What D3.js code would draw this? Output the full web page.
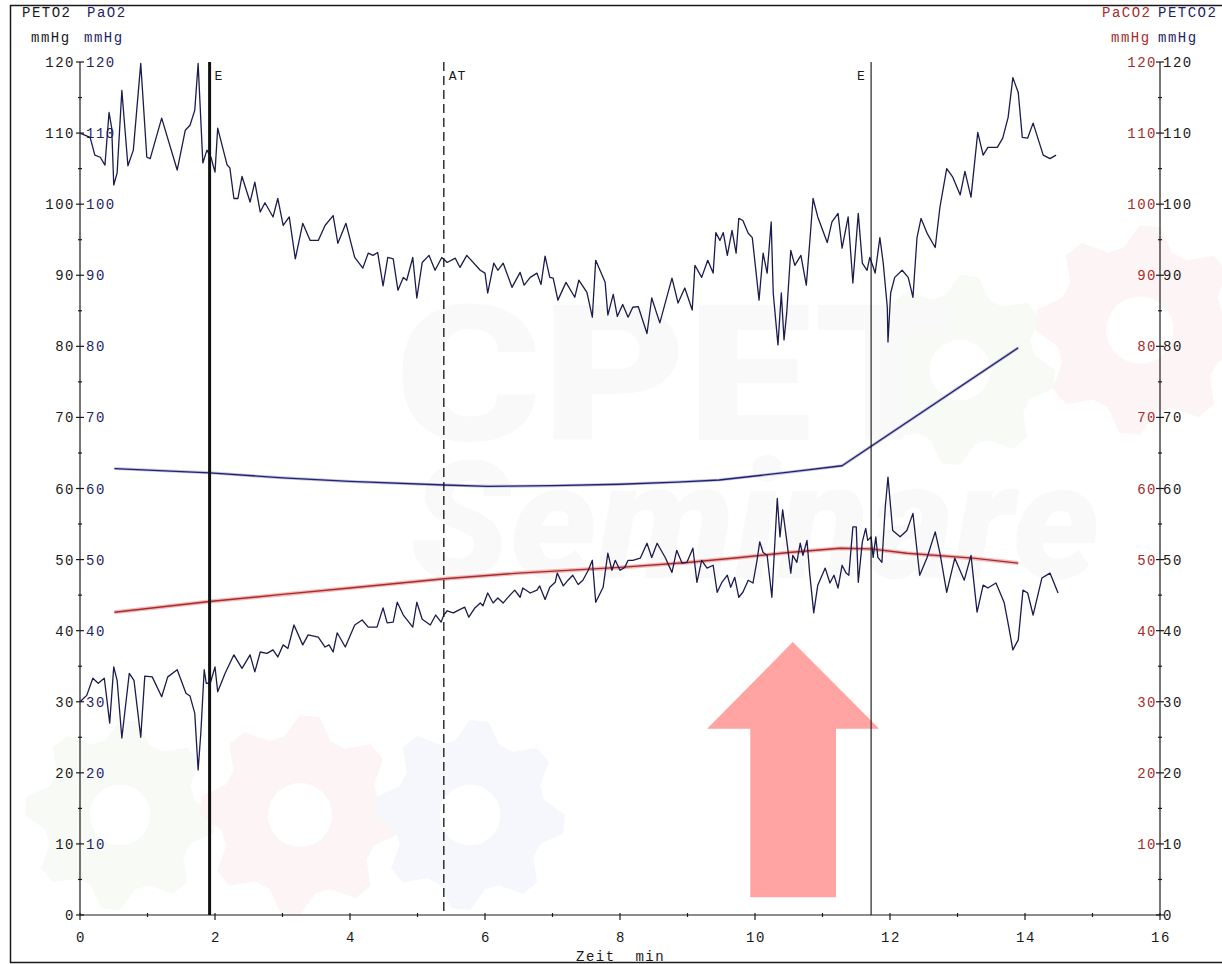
<!DOCTYPE html>
<html>
<head>
<meta charset="utf-8">
<script src="https://cdn.jsdelivr.net/npm/d3@7"></script>
<style>
  body { margin: 0; background: #fff; }
  svg { display: block; }
  text { font-family: "Liberation Mono", "DejaVu Sans Mono", monospace; font-size: 14px; letter-spacing: 1.5px; }
</style>
</head>
<body>
<script>
// ---- data -------------------------------------------------------------
// time in minutes, values in mmHg
const yTickValues = [0, 10, 20, 30, 40, 50, 60, 70, 80, 90, 100, 110, 120];
const xTickValues = [0, 2, 4, 6, 8, 10, 12, 14, 16];

// end-tidal O2, breath by breath
const petO2 = [[0.00,110.0],[0.15,109.4],[0.22,106.9],[0.30,106.6],[0.37,105.5],[0.43,112.9],[0.47,110.7],[0.50,102.7],[0.55,104.4],[0.62,116.0],[0.71,105.4],[0.79,107.6],[0.90,119.8],[0.99,106.6],[1.04,106.4],[1.21,112.1],[1.44,104.8],[1.56,110.4],[1.63,111.1],[1.70,113.2],[1.75,119.8],[1.82,105.8],[1.88,107.6],[1.94,106.6],[2.00,104.5],[2.04,110.7],[2.18,105.5],[2.22,105.1],[2.28,100.8],[2.34,100.8],[2.40,103.9],[2.52,100.3],[2.59,103.1],[2.67,98.9],[2.74,100.2],[2.86,98.2],[2.93,100.8],[3.01,97.0],[3.10,98.2],[3.19,92.3],[3.30,97.3],[3.41,94.9],[3.53,94.9],[3.63,97.0],[3.75,98.4],[3.82,94.5],[3.94,97.3],[4.07,92.5],[4.19,91.0],[4.27,93.1],[4.34,92.8],[4.41,93.2],[4.49,88.5],[4.56,92.5],[4.64,92.3],[4.71,87.9],[4.79,89.7],[4.84,89.3],[4.93,92.5],[4.99,86.8],[5.07,91.8],[5.17,92.8],[5.26,90.7],[5.36,92.5],[5.44,91.8],[5.56,92.4],[5.63,91.1],[5.73,92.8],[5.93,90.7],[6.00,90.3],[6.04,87.5],[6.13,91.7],[6.19,90.7],[6.27,91.7],[6.40,88.3],[6.52,90.4],[6.58,88.6],[6.67,89.7],[6.77,90.3],[6.83,88.7],[6.89,92.7],[6.96,89.7],[7.01,89.6],[7.08,86.5],[7.20,89.0],[7.33,86.9],[7.39,89.3],[7.51,87.6],[7.59,84.1],[7.64,92.1],[7.78,89.0],[7.82,84.4],[7.90,87.3],[7.96,84.2],[8.04,85.9],[8.12,84.1],[8.19,85.5],[8.27,85.6],[8.40,81.8],[8.47,86.8],[8.59,83.3],[8.77,89.6],[8.86,86.1],[8.96,88.2],[9.07,85.1],[9.11,91.4],[9.21,89.7],[9.30,92.1],[9.38,90.3],[9.42,96.0],[9.48,94.9],[9.53,96.0],[9.59,92.8],[9.66,96.3],[9.72,93.1],[9.76,98.0],[9.82,97.7],[9.90,95.9],[9.96,95.3],[10.06,86.5],[10.12,93.1],[10.18,90.3],[10.24,97.5],[10.27,87.5],[10.34,80.2],[10.39,87.5],[10.43,80.9],[10.47,84.7],[10.53,93.5],[10.59,91.4],[10.68,92.8],[10.76,88.6],[10.81,94.5],[10.86,100.8],[10.93,98.2],[11.07,94.6],[11.14,97.5],[11.23,98.7],[11.29,93.8],[11.38,98.2],[11.45,88.9],[11.53,98.7],[11.59,91.7],[11.66,90.7],[11.70,92.5],[11.75,91.2],[11.78,90.3],[11.85,95.3],[11.90,91.7],[11.96,85.5],[11.97,80.6],[12.01,87.5],[12.07,89.7],[12.18,90.7],[12.27,89.7],[12.34,86.9],[12.40,95.3],[12.46,98.0],[12.55,95.9],[12.67,93.9],[12.74,99.6],[12.84,105.0],[12.93,103.8],[13.04,101.3],[13.11,104.6],[13.20,101.0],[13.30,110.1],[13.38,106.9],[13.45,108.0],[13.59,108.0],[13.67,109.3],[13.75,112.2],[13.82,117.8],[13.90,115.7],[13.96,109.4],[14.04,109.3],[14.12,111.4],[14.27,106.9],[14.37,106.4],[14.46,106.9]];

// end-tidal CO2, breath by breath
const petCO2 = [[0.00,30.0],[0.10,30.9],[0.19,33.3],[0.27,32.6],[0.36,33.3],[0.40,30.2],[0.44,27.0],[0.50,34.9],[0.55,33.0],[0.62,24.9],[0.73,34.0],[0.80,33.0],[0.90,25.0],[0.96,33.6],[1.07,33.5],[1.21,30.7],[1.30,33.5],[1.44,34.5],[1.57,31.2],[1.63,30.8],[1.70,28.4],[1.75,20.4],[1.79,25.6],[1.84,34.5],[1.87,32.6],[1.93,32.6],[2.00,34.9],[2.04,31.4],[2.15,34.0],[2.28,36.6],[2.40,34.7],[2.52,36.6],[2.59,34.2],[2.67,37.0],[2.77,36.8],[2.86,37.3],[2.93,36.3],[3.01,38.0],[3.08,37.5],[3.17,40.8],[3.30,38.0],[3.38,39.4],[3.53,39.1],[3.63,37.7],[3.69,38.0],[3.75,37.0],[3.81,39.7],[3.93,37.7],[4.07,40.8],[4.18,41.5],[4.27,40.5],[4.40,40.5],[4.49,43.2],[4.55,41.1],[4.64,41.2],[4.70,44.0],[4.79,42.2],[4.93,40.5],[4.99,44.0],[5.07,41.6],[5.19,40.8],[5.27,42.2],[5.35,41.2],[5.39,42.2],[5.44,42.8],[5.53,42.5],[5.61,42.9],[5.70,43.3],[5.76,41.9],[5.85,43.2],[5.93,43.9],[5.97,43.5],[6.04,45.3],[6.12,43.9],[6.19,44.6],[6.27,43.9],[6.37,45.0],[6.44,45.7],[6.52,44.7],[6.56,46.0],[6.67,45.3],[6.77,45.7],[6.81,46.3],[6.89,44.4],[6.96,46.1],[7.04,46.8],[7.07,48.1],[7.16,46.3],[7.23,47.1],[7.30,47.8],[7.38,46.5],[7.45,47.1],[7.53,48.5],[7.59,49.9],[7.64,44.0],[7.75,46.1],[7.82,50.9],[7.88,48.5],[7.93,49.9],[8.00,48.5],[8.07,48.9],[8.12,49.9],[8.19,49.9],[8.30,50.2],[8.40,52.3],[8.47,50.3],[8.55,52.3],[8.67,50.3],[8.77,48.2],[8.84,51.3],[8.92,49.5],[8.99,49.6],[9.08,51.6],[9.14,46.8],[9.21,49.9],[9.29,48.8],[9.38,49.2],[9.44,45.4],[9.51,46.8],[9.59,47.8],[9.64,46.1],[9.70,47.5],[9.76,44.7],[9.82,45.4],[9.90,47.1],[9.97,46.7],[10.03,49.9],[10.07,52.5],[10.12,51.0],[10.18,50.6],[10.25,44.7],[10.33,58.6],[10.37,53.2],[10.41,57.0],[10.47,52.7],[10.53,48.1],[10.56,50.6],[10.62,49.6],[10.67,52.3],[10.71,50.6],[10.77,52.7],[10.81,48.1],[10.87,42.5],[10.93,46.4],[11.04,48.8],[11.11,46.7],[11.17,47.8],[11.23,46.0],[11.29,49.2],[11.35,48.1],[11.39,47.8],[11.45,54.6],[11.50,54.6],[11.53,46.8],[11.59,52.5],[11.64,54.4],[11.67,52.7],[11.72,53.2],[11.75,50.3],[11.79,53.2],[11.82,50.3],[11.88,49.6],[11.93,57.4],[11.97,61.6],[12.04,54.1],[12.15,53.2],[12.25,54.1],[12.34,56.5],[12.44,47.8],[12.55,50.3],[12.67,53.9],[12.74,50.9],[12.84,45.4],[12.96,50.2],[13.10,47.1],[13.20,50.6],[13.29,42.6],[13.38,46.4],[13.45,46.0],[13.57,46.7],[13.69,44.0],[13.76,40.5],[13.82,37.3],[13.90,38.7],[13.97,45.7],[14.04,45.3],[14.12,42.2],[14.25,47.4],[14.37,48.1],[14.49,45.3]];

// arterial O2 and CO2 (smoothed)
const paO2 = [[0.51,62.8],[1.92,62.2],[3.0,61.5],[4.0,61.0],[5.40,60.5],[6.04,60.3],[7.0,60.4],[8.0,60.6],[8.85,60.9],[9.47,61.2],[10.5,62.3],[11.29,63.2],[13.90,79.8]];
const paCO2 = [[0.51,42.6],[1.92,44.1],[3.0,45.1],[4.0,46.0],[5.4,47.3],[6.5,48.1],[8.0,48.9],[9.0,49.6],[9.78,50.3],[10.5,51.0],[11.26,51.6],[11.72,51.5],[12.25,50.9],[13.23,50.2],[13.9,49.5]];

// event markers
const markerTimes = [1.92, 5.39, 11.72];
const markerLabels = ["E", "AT", "E"];

// highlight arrow outline, in minutes / mmHg
const arrowOutline = [[10.56,38.4],[11.84,26.2],[11.20,26.2],[11.20,2.5],[9.93,2.5],[9.93,26.2],[9.29,26.2]];

// ---- drawing ----------------------------------------------------------
const W = 1222, H = 964;
const NAVY = "#1f1f66", LINE = "#1b1b4d", RED = "#a52c2c", INK = "#1a1a1a";

const x = d3.scaleLinear().domain([0, 16]).range([80, 1160]);
const y = d3.scaleLinear().domain([0, 120]).range([915, 62]);

const svg = d3.select("body").append("svg").attr("width", W).attr("height", H);
svg.append("rect").attr("width", W).attr("height", H).attr("fill", "#fff");

// faint background branding
const wm = svg.append("g").attr("class", "watermark");
function gear(cx, cy, r, color) {
  const teeth = 8, pts = [];
  for (let i = 0; i < teeth * 4; i++) {
    const a = (i / (teeth * 4)) * Math.PI * 2;
    const rr = (i % 4 < 2) ? r : r * 0.8;
    pts.push([cx + rr * Math.cos(a), cy + rr * Math.sin(a)]);
  }
  wm.append("path").attr("d", d3.line().curve(d3.curveLinearClosed)(pts)).attr("fill", color);
  wm.append("circle").attr("cx", cx).attr("cy", cy).attr("r", r * 0.32).attr("fill", "#fff");
}
gear(120, 815, 95, "#f8faf5");
gear(300, 815, 100, "#fdf5f5");
gear(470, 815, 95, "#f5f7fc");
gear(960, 370, 95, "#f8faf5");
gear(1140, 330, 105, "#fdf5f5");
wm.append("text").attr("x", 395).attr("y", 440).attr("textLength", 560).attr("lengthAdjust", "spacingAndGlyphs")
  .style("font-family", "Roboto, sans-serif").style("font-weight", 900).style("font-size", "190px").style("letter-spacing", "0")
  .attr("fill", "#f9f9f9").text("CPET");
wm.append("text").attr("x", 410).attr("y", 578).attr("textLength", 690).attr("lengthAdjust", "spacingAndGlyphs")
  .style("font-family", "Roboto, sans-serif").style("font-weight", 900).style("font-style", "italic").style("font-size", "165px").style("letter-spacing", "0")
  .attr("fill", "#f9f9f9").text("Seminare");

// outer frame
svg.append("rect").attr("x", 10.5).attr("y", 5.5).attr("width", W).attr("height", 957)
  .attr("fill", "none").attr("stroke", INK).attr("stroke-width", 1.5);

// highlight arrow
svg.append("path")
  .attr("d", d3.line().x(d => x(d[0])).y(d => y(d[1])).curve(d3.curveLinearClosed)(arrowOutline))
  .attr("fill", "#ffa3a3");

// axes
const axes = svg.append("g").attr("stroke", INK).attr("stroke-width", 1.2);
[0, 16].forEach(t => {
  axes.append("line").attr("x1", x(t)).attr("x2", x(t)).attr("y1", y(120)).attr("y2", y(0));
});
axes.append("line").attr("x1", x(0)).attr("x2", x(16)).attr("y1", y(0)).attr("y2", y(0));

const yMinor = d3.range(5, 120, 10);
[0, 16].forEach(t => {
  const ax = x(t);
  yTickValues.forEach(v => axes.append("line").attr("x1", ax - 4).attr("x2", ax + 4).attr("y1", y(v)).attr("y2", y(v)));
  yMinor.forEach(v => axes.append("line").attr("x1", ax - 2).attr("x2", ax + 2).attr("y1", y(v)).attr("y2", y(v)));
});
xTickValues.forEach(t => axes.append("line").attr("x1", x(t)).attr("x2", x(t)).attr("y1", y(0) - 2).attr("y2", y(0) + 5));
d3.range(1, 16, 2).forEach(t => axes.append("line").attr("x1", x(t)).attr("x2", x(t)).attr("y1", y(0) - 2).attr("y2", y(0) + 2));

// y tick labels: left axis carries PETO2 / PaO2, right axis PaCO2 / PETCO2
const labels = svg.append("g");
yTickValues.forEach(v => {
  const yy = y(v) + 5;
  labels.append("text").attr("x", x(0) - 5).attr("y", yy).attr("text-anchor", "end").attr("fill", INK).text(v);
  if (v > 0) labels.append("text").attr("x", x(0) + 6).attr("y", yy).attr("fill", NAVY).text(v);
  if (v > 0) labels.append("text").attr("x", x(16) - 3).attr("y", yy).attr("text-anchor", "end").attr("fill", RED).text(v);
  labels.append("text").attr("x", x(16) + 3).attr("y", yy).attr("fill", INK).text(v);
});
xTickValues.forEach(t => {
  labels.append("text").attr("x", x(t) + 1).attr("y", 942).attr("text-anchor", "middle").attr("fill", INK).text(t);
});
labels.append("text").attr("x", 576).attr("y", 961).attr("fill", INK).attr("xml:space", "preserve").style("white-space", "pre").text("Zeit  min");

// axis headers
labels.append("text").attr("x", 22).attr("y", 17).attr("fill", INK).text("PETO2");
labels.append("text").attr("x", 87).attr("y", 17).attr("fill", NAVY).text("PaO2");
labels.append("text").attr("x", 31).attr("y", 42).attr("fill", INK).text("mmHg");
labels.append("text").attr("x", 84).attr("y", 42).attr("fill", NAVY).text("mmHg");
labels.append("text").attr("x", 1102).attr("y", 17).attr("fill", RED).text("PaCO2");
labels.append("text").attr("x", 1158).attr("y", 17).attr("fill", NAVY).text("PETCO2");
labels.append("text").attr("x", 1111).attr("y", 42).attr("fill", RED).text("mmHg");
labels.append("text").attr("x", 1158).attr("y", 42).attr("fill", NAVY).text("mmHg");

// series
const line = d3.line().x(d => x(d[0])).y(d => y(d[1]));
const plot = svg.append("g").attr("fill", "none").attr("stroke-linejoin", "round");
plot.append("path").attr("d", line(paCO2)).attr("stroke", "#f4b8b8").attr("stroke-width", 4);
plot.append("path").attr("d", line(paCO2)).attr("stroke", RED).attr("stroke-width", 1.4);
plot.append("path").attr("d", line(paO2)).attr("stroke", "#c4c4de").attr("stroke-width", 3);
plot.append("path").attr("d", line(paO2)).attr("stroke", "#222270").attr("stroke-width", 1.4);
plot.append("path").attr("d", line(petO2)).attr("stroke", LINE).attr("stroke-width", 1.3);
plot.append("path").attr("d", line(petCO2)).attr("stroke", LINE).attr("stroke-width", 1.3);

// event markers
const mk = svg.append("g");
markerTimes.forEach((t, i) => {
  const l = mk.append("line").attr("x1", x(t)).attr("x2", x(t)).attr("y1", y(120)).attr("y2", y(0)).attr("stroke", "#111");
  if (i === 0) l.attr("stroke-width", 3);
  else if (i === 1) l.attr("stroke-width", 1.3).attr("stroke-dasharray", "9,5");
  else l.attr("stroke-width", 1.1);
  const lastOne = i === markerTimes.length - 1;
  mk.append("text").attr("x", lastOne ? x(t) - 14 : x(t) + 5).attr("y", 80)
    .attr("fill", INK).style("font-size", "13px").style("letter-spacing", "1px").text(markerLabels[i]);
});
</script>
</body>
</html>
